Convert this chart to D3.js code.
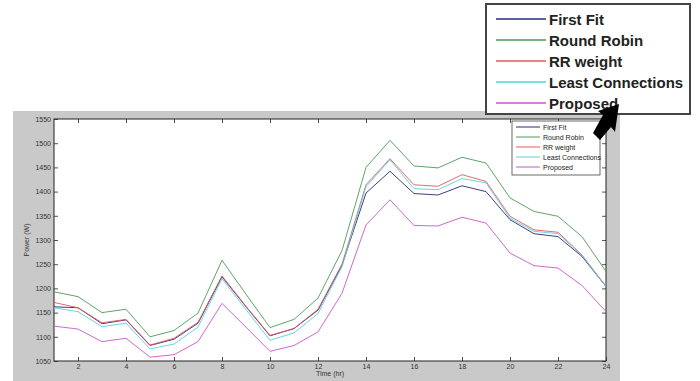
<!DOCTYPE html>
<html><head><meta charset="utf-8">
<script src="https://cdn.jsdelivr.net/npm/d3@7"></script>
<style>body{margin:0;background:#fff;}svg{display:block;}</style>
</head><body>
<svg id="c" width="700" height="381"></svg>
<script>
const hours = [1,2,3,4,5,6,7,8,9,10,11,12,13,14,15,16,17,18,19,20,21,22,23,24];
const seriesNames = ["First Fit","Round Robin","RR weight","Least Connections","Proposed"];
const firstFit   = [1162,1160,1127,1135,1082,1095,1128,1224,1162,1102,1117,1155,1248,1397,1442,1396,1393,1412,1400,1342,1313,1307,1266,1204];
const roundRobin = [1193,1183,1150,1157,1100,1113,1149,1258,1188,1119,1136,1180,1278,1450,1506,1453,1449,1471,1459,1387,1359,1349,1307,1235];
const rrWeight   = [1171,1160,1129,1136,1083,1097,1130,1226,1163,1103,1117,1157,1250,1414,1468,1414,1411,1435,1421,1349,1321,1316,1269,1204];
const leastConn  = [1160,1152,1121,1128,1075,1085,1120,1220,1156,1093,1108,1148,1245,1410,1466,1406,1404,1427,1418,1345,1318,1313,1268,1204];
const proposed   = [1122,1116,1090,1097,1058,1063,1090,1169,1120,1070,1082,1110,1190,1331,1383,1330,1329,1347,1335,1273,1247,1242,1206,1152];
const xTicks = [2,4,6,8,10,12,14,16,18,20,22,24];
const yTicks = [1050,1100,1150,1200,1250,1300,1350,1400,1450,1500,1550];
const colors = ["#2a2a78","#4f9a55","#e8585a","#58d0dc","#c45ac8"];

const allSeries = [firstFit, roundRobin, rrWeight, leastConn, proposed];
const svg = d3.select("#c");

// figure background
svg.append("rect").attr("x",13).attr("y",111).attr("width",607).attr("height",270).attr("fill","#c9c9c9");

const L=54, R=606, T=119, B=361;
const x = d3.scaleLinear().domain([1,24]).range([L,R]);
const y = d3.scaleLinear().domain([1050,1550]).range([B,T]);

svg.append("rect").attr("x",L).attr("y",T).attr("width",R-L).attr("height",B-T).attr("fill","#fff");

const font = "Liberation Sans, Arial, sans-serif";
// axes
const gB = svg.append("g").attr("transform",`translate(0,${B})`)
  .call(d3.axisBottom(x).tickValues(xTicks).tickSizeInner(-4).tickSizeOuter(0).tickPadding(3).tickFormat(d3.format("d")));
const gT = svg.append("g").attr("transform",`translate(0,${T})`)
  .call(d3.axisTop(x).tickValues(xTicks).tickSizeInner(-4).tickSizeOuter(0).tickFormat(""));
const gL = svg.append("g").attr("transform",`translate(${L},0)`)
  .call(d3.axisLeft(y).tickValues(yTicks).tickSizeInner(-4).tickSizeOuter(0).tickPadding(3).tickFormat(d3.format("d")));
const gR = svg.append("g").attr("transform",`translate(${R},0)`)
  .call(d3.axisRight(y).tickValues(yTicks).tickSizeInner(-4).tickSizeOuter(0).tickFormat(""));
[gB,gT,gL,gR].forEach(g=>{
  g.select(".domain").remove();
  g.selectAll(".tick line").attr("stroke","#555");
  g.selectAll(".tick text").attr("font-family",font).attr("font-size",7).attr("fill","#333");
});
svg.append("rect").attr("x",L).attr("y",T).attr("width",R-L).attr("height",B-T)
  .attr("fill","none").attr("stroke","#222").attr("stroke-width",1);

// lines
const line = d3.line().x((d,i)=>x(hours[i])).y(d=>y(d));
allSeries.forEach((s,i)=>{
  svg.append("path").datum(s).attr("d",line).attr("fill","none")
    .attr("stroke",colors[i]).attr("stroke-width",1).attr("stroke-opacity",0.9);
});

// axis titles
svg.append("text").attr("x",(L+R)/2).attr("y",376).attr("text-anchor","middle")
  .attr("font-family",font).attr("font-size",7).attr("fill","#333").text("Time (hr)");
svg.append("text").attr("transform",`translate(29,${(T+B)/2}) rotate(-90)`).attr("text-anchor","middle")
  .attr("font-family",font).attr("font-size",7).attr("fill","#333").text("Power (W)");

// small legend
const sl = svg.append("g");
sl.append("rect").attr("x",512).attr("y",121).attr("width",88).attr("height",54).attr("fill","#fff").attr("stroke","#444").attr("stroke-width",0.8);
seriesNames.forEach((n,i)=>{
  const yy = 127 + i*10;
  sl.append("line").attr("x1",516).attr("x2",540).attr("y1",yy).attr("y2",yy).attr("stroke",colors[i]).attr("stroke-width",1);
  sl.append("text").attr("x",543).attr("y",yy+2.5).attr("font-family",font).attr("font-size",7).attr("fill","#222").text(n);
});

// zoomed legend
const bl = svg.append("g");
bl.append("rect").attr("x",486).attr("y",4).attr("width",204).attr("height",110).attr("fill","#fff").attr("stroke","#444").attr("stroke-width",2);
seriesNames.forEach((n,i)=>{
  const yy = 19 + i*21;
  bl.append("line").attr("x1",496).attr("x2",546).attr("y1",yy).attr("y2",yy).attr("stroke",colors[i]).attr("stroke-width",1.6);
  bl.append("text").attr("x",549).attr("y",yy+5.5).attr("font-family",font).attr("font-size",15).attr("font-weight","bold").attr("fill","#222").text(n);
});

// arrow
svg.append("polygon")
  .attr("points","593,133 600,140 611,127 615,132 619,104 598,111 603,115")
  .attr("fill","#000");
</script>
</body></html>
